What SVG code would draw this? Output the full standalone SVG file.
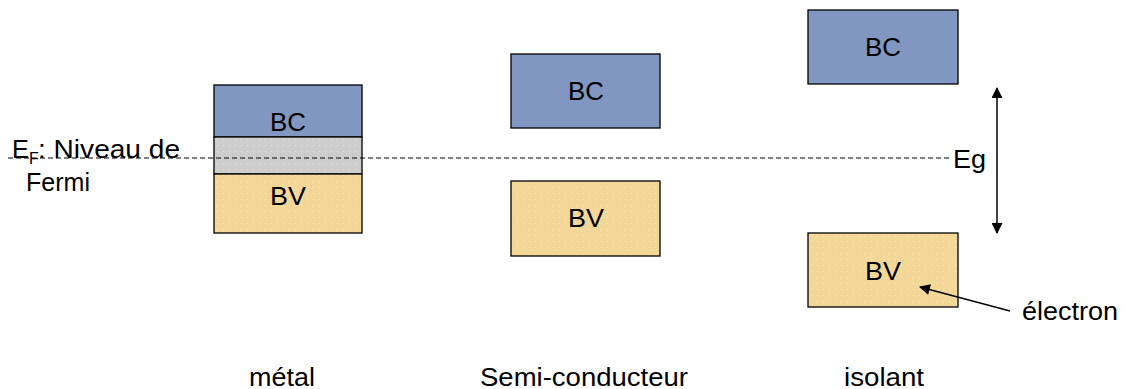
<svg xmlns="http://www.w3.org/2000/svg" width="1125" height="389" viewBox="0 0 1125 389">
<style>
text{font-family:"Liberation Sans",Arial,sans-serif;font-size:25px;fill:#000}
.bc{fill:#8196c0;stroke:#000;stroke-width:1.3}
.bv{fill:url(#dotsY);stroke:#000;stroke-width:1.3}
.gr{fill:url(#dotsG);stroke:#000;stroke-width:1.3}
.c{text-anchor:middle}
</style>
<defs>
<pattern id="dotsY" width="6" height="6" patternUnits="userSpaceOnUse">
<rect width="6" height="6" fill="#f3d798"/><circle cx="1.5" cy="1.5" r="0.6" fill="#fbeecb"/>
</pattern>
<pattern id="dotsG" width="6" height="6" patternUnits="userSpaceOnUse">
<rect width="6" height="6" fill="#cdcdcd"/><circle cx="1.5" cy="1.5" r="0.6" fill="#e6e6e6"/>
</pattern>
<marker id="ah2" viewBox="0 0 10 10" refX="9" refY="5" markerWidth="13" markerHeight="11" orient="auto-start-reverse" markerUnits="userSpaceOnUse">
<path d="M0,0 L10,5 L0,10 z" fill="#000"/>
</marker>
</defs>
<g id="metal">
<rect class="bc" x="214" y="85" width="148" height="52"/>
<rect class="gr" x="214" y="137" width="148" height="37"/>
<rect class="bv" x="214" y="174" width="148" height="59"/>
<text class="c" x="288" y="131" textLength="36" lengthAdjust="spacingAndGlyphs">BC</text>
<text class="c" x="288" y="205" textLength="36" lengthAdjust="spacingAndGlyphs">BV</text>
<text class="c" x="282" y="386" textLength="66" lengthAdjust="spacingAndGlyphs">métal</text>
</g>
<g id="semi">
<rect class="bc" x="511" y="54" width="149" height="74"/>
<rect class="bv" x="511" y="181" width="149" height="75"/>
<text class="c" x="586" y="100" textLength="36" lengthAdjust="spacingAndGlyphs">BC</text>
<text class="c" x="586" y="227" textLength="36" lengthAdjust="spacingAndGlyphs">BV</text>
<text class="c" x="584" y="386" textLength="208" lengthAdjust="spacingAndGlyphs">Semi-conducteur</text>
</g>
<g id="isolant">
<rect class="bc" x="808" y="10" width="150" height="74"/>
<rect class="bv" x="808" y="233" width="150" height="74"/>
<text class="c" x="883" y="56" textLength="36" lengthAdjust="spacingAndGlyphs">BC</text>
<text class="c" x="883" y="280" textLength="36" lengthAdjust="spacingAndGlyphs">BV</text>
<text class="c" x="884" y="386" textLength="80" lengthAdjust="spacingAndGlyphs">isolant</text>
</g>
<g id="fermi">
<text x="12" y="158" textLength="17" lengthAdjust="spacingAndGlyphs">E</text>
<text x="29" y="164" font-size="16" style="font-size:16px">F</text>
<text x="38" y="158" textLength="142" lengthAdjust="spacingAndGlyphs">: Niveau de</text>
<text x="58" y="191" class="c" textLength="64" lengthAdjust="spacingAndGlyphs">Fermi</text>
</g>
<g id="eg"><text x="953" y="168" textLength="33" lengthAdjust="spacingAndGlyphs">Eg</text></g>
<g id="electron"><text x="1022" y="320" textLength="96" lengthAdjust="spacingAndGlyphs">électron</text></g>
<g id="connectors">
<line x1="8" y1="158" x2="950" y2="158" stroke="#000" stroke-width="1" stroke-dasharray="5,3"/>
<line x1="997" y1="88" x2="997" y2="233" stroke="#000" stroke-width="1.5" marker-start="url(#ah2)" marker-end="url(#ah2)"/>
<line x1="1010" y1="311" x2="920" y2="287" stroke="#000" stroke-width="1.3" marker-end="url(#ah2)"/>
</g>
</svg>
